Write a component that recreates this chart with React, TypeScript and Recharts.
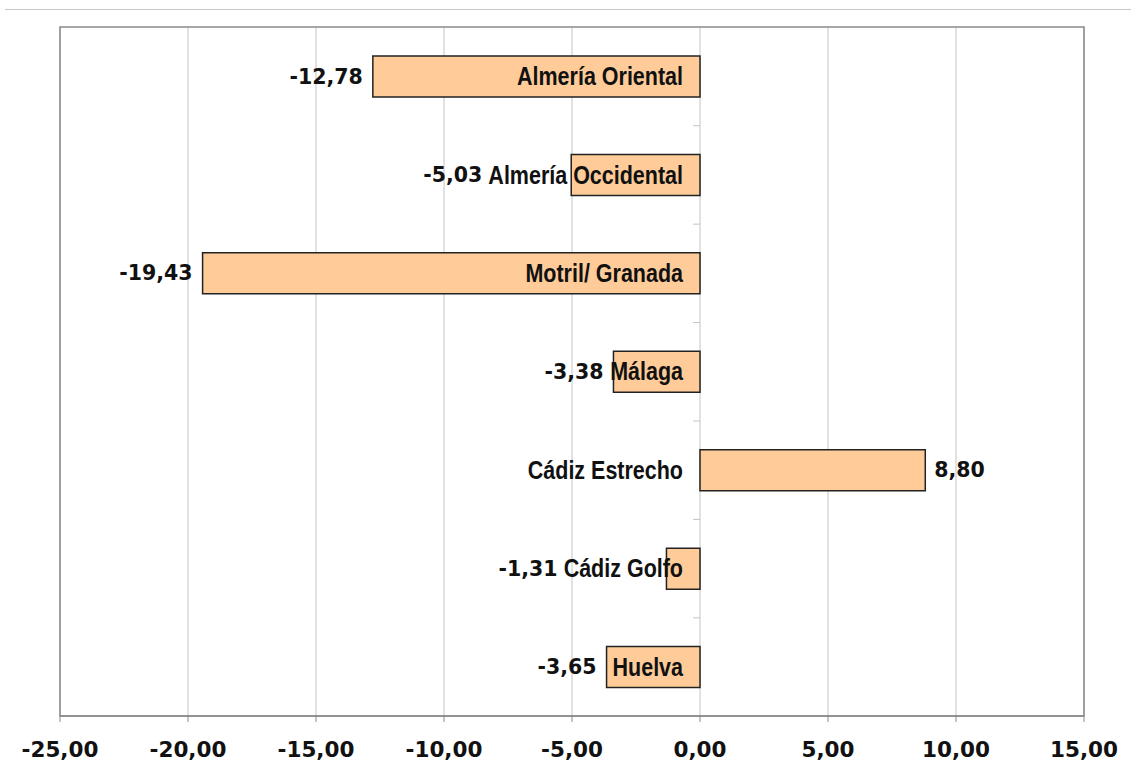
import React from 'react';
import {
  BarChart, Bar, XAxis, YAxis, CartesianGrid, ReferenceArea, LabelList,
} from 'recharts';

const categories = [
  'Almería Oriental',
  'Almería Occidental',
  'Motril/ Granada',
  'Málaga',
  'Cádiz Estrecho',
  'Cádiz Golfo',
  'Huelva',
];
const values = [-12.78, -5.03, -19.43, -3.38, 8.8, -1.31, -3.65];
const xTicks = [-25, -20, -15, -10, -5, 0, 5, 10, 15];

const data = categories.map((name, i) => ({ name, value: values[i] }));

const W = 1131;
const H = 783;
const MARGIN = { top: 27, right: 47, bottom: 27, left: 60 };
const X_AXIS_H = 40;
const PLOT_H = H - MARGIN.top - MARGIN.bottom - X_AXIS_H;
const BAND = PLOT_H / categories.length;

const GRID = '#c4c4c4';
const FRAME = '#8a8a8a';

const NUM_FONT = "'DejaVu Sans', Verdana, sans-serif";
// no narrow face installed: squeeze Liberation Sans Bold horizontally
const CAT_FONT = "'Liberation Sans', Arial, sans-serif";
const CAT_SIZE = 25;
const CAT_SQUEEZE = 0.86;
const NUM_SIZE = 20.5;

const fmt = (v: number) => v.toFixed(2).replace('.', ',');

let ctx: CanvasRenderingContext2D | null = null;
function textWidth(text: string, font: string): number {
  if (!ctx) ctx = document.createElement('canvas').getContext('2d');
  if (!ctx) return text.length * 10;
  ctx.font = font;
  return ctx.measureText(text).width;
}

function BarLabels(props: any) {
  const { x, y, width, height, index } = props;
  const v = values[index];
  const name = categories[index];
  const left = Math.min(x, x + width);
  const right = Math.max(x, x + width);
  const zero = v < 0 ? right : left;
  const cy = y + height / 2;
  const catRight = zero - 17;
  const catW = textWidth(name, `bold ${CAT_SIZE}px ${CAT_FONT}`) * CAT_SQUEEZE;

  let valX: number;
  let anchor: 'start' | 'end';
  if (v < 0) {
    valX = Math.min(left - 10, catRight - catW - 6);
    anchor = 'end';
  } else {
    valX = right + 9;
    anchor = 'start';
  }

  return (
    <g>
      {index < categories.length - 1 && (
        <line x1={zero - 7} x2={zero} y1={cy + BAND / 2} y2={cy + BAND / 2} stroke={GRID} />
      )}
      <text
        transform={`translate(${catRight},${cy}) scale(${CAT_SQUEEZE},1)`}
        x={0}
        y={0}
        textAnchor="end"
        dominantBaseline="central"
        fontFamily={CAT_FONT}
        fontWeight="bold"
        fontSize={CAT_SIZE}
        fill="#111"
      >
        {name}
      </text>
      <text
        x={valX}
        y={cy}
        textAnchor={anchor}
        dominantBaseline="central"
        fontFamily={NUM_FONT}
        fontWeight="bold"
        fontSize={NUM_SIZE}
        fill="#111"
      >
        {fmt(v)}
      </text>
    </g>
  );
}

export default function App() {
  return (
    <div style={{ position: 'absolute', left: 0, top: 0, width: W, height: H, background: '#fff' }}>
      <div style={{ position: 'absolute', left: 5, right: 0, top: 9, borderTop: '1px solid #c8c8c8' }} />
      <BarChart width={W} height={H} data={data} layout="vertical" margin={MARGIN} barSize={41}>
        <CartesianGrid horizontal={false} stroke={GRID} />
        <ReferenceArea x1={-25} x2={15} fill="none" stroke={FRAME} strokeWidth={1.5} />
        <XAxis
          type="number"
          domain={[-25, 15]}
          ticks={xTicks}
          height={X_AXIS_H}
          tickFormatter={(v) => fmt(v as number)}
          tick={{ fontSize: 21.5, fontWeight: 'bold', fill: '#111', fontFamily: NUM_FONT }}
          tickSize={6}
          tickMargin={20}
          axisLine={{ stroke: FRAME, strokeWidth: 1.5 }}
          tickLine={{ stroke: FRAME }}
          interval={0}
        />
        <YAxis type="category" dataKey="name" hide />
        <Bar dataKey="value" fill="#FFCC99" stroke="#222" strokeWidth={1.5} isAnimationActive={false}>
          <LabelList dataKey="value" content={BarLabels} />
        </Bar>
      </BarChart>
    </div>
  );
}
